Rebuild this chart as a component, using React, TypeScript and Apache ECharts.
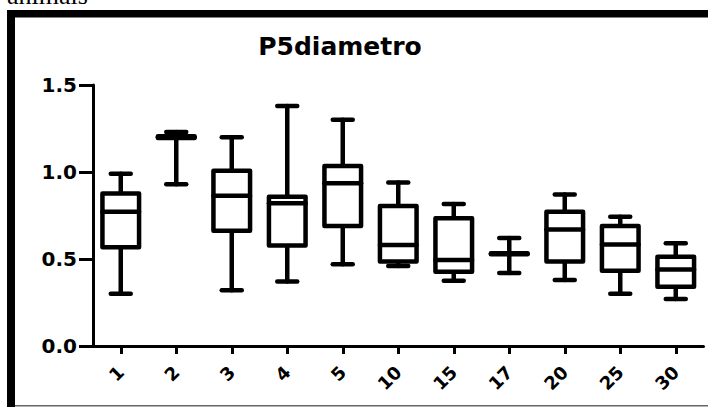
import React, { useEffect, useRef } from "react";
import * as echarts from "echarts";

const categories = ["1", "2", "3", "4", "5", "10", "15", "17", "20", "25", "30"];
const minVals = [0.3, 0.93, 0.32, 0.37, 0.47, 0.46, 0.375, 0.42, 0.38, 0.3, 0.27];
const q1Vals = [0.567, 1.195, 0.663, 0.578, 0.69, 0.485, 0.427, 0.527, 0.485, 0.433, 0.341];
const medianVals = [0.772, 1.2, 0.864, 0.82, 0.935, 0.58, 0.494, 0.53, 0.67, 0.584, 0.44];
const q3Vals = [0.877, 1.205, 1.007, 0.858, 1.034, 0.805, 0.734, 0.533, 0.772, 0.69, 0.513];
const maxVals = [0.99, 1.23, 1.2, 1.38, 1.3, 0.94, 0.816, 0.62, 0.87, 0.743, 0.59];
const chartTitle = "P5diametro";
const captionText = "animals";

export default function App() {
  const ref = useRef<HTMLDivElement>(null);
  useEffect(() => {
    document.body.style.margin = "0";
    if (!ref.current) return;
    const chart = echarts.init(ref.current, null, { renderer: "svg" });
    const data = categories.map((_, i) => [i, minVals[i], q1Vals[i], medianVals[i], q3Vals[i], maxVals[i]]);
    const lw = 4.5;
    const strokeStyle = { stroke: "#000", lineWidth: lw, lineCap: "round", lineJoin: "round" };
    chart.setOption({
      animation: false,
      backgroundColor: "#fff",
      grid: { left: 93, right: 4.5, top: 85, bottom: 61, containLabel: false },
      xAxis: {
        type: "category",
        data: categories,
        axisLine: { show: true, lineStyle: { color: "#000", width: 3 } },
        axisTick: { show: true, alignWithLabel: true, length: 8, lineStyle: { color: "#000", width: 3 } },
        axisLabel: {
          rotate: 45,
          margin: 23,
          color: "#000",
          fontFamily: "DejaVu Sans",
          fontWeight: "bold",
          fontSize: 18,
        },
        splitLine: { show: false },
      },
      yAxis: {
        type: "value",
        min: 0,
        max: 1.5,
        interval: 0.5,
        axisLine: { show: true, lineStyle: { color: "#000", width: 3 } },
        axisTick: { show: true, length: 14, lineStyle: { color: "#000", width: 3 } },
        axisLabel: {
          margin: 16,
          color: "#000",
          fontFamily: "DejaVu Sans",
          fontWeight: "bold",
          fontSize: 20,
          formatter: (v: number) => v.toFixed(1),
        },
        splitLine: { show: false },
      },
      graphic: [
        { type: "rect", shape: { x: 7, y: 10, width: 701, height: 7.5 }, style: { fill: "#000" }, silent: true },
        { type: "rect", shape: { x: 7, y: 10, width: 8, height: 397 }, style: { fill: "#000" }, silent: true },
        { type: "rect", shape: { x: 15, y: 405, width: 693, height: 1.5 }, style: { fill: "#666" }, silent: true },
        {
          type: "text",
          x: 7,
          y: -4.5,
          style: { text: captionText, font: '26px "Liberation Serif"', fill: "#000", align: "left", verticalAlign: "middle" },
          silent: true,
        },
        {
          type: "text",
          x: 340,
          y: 46,
          style: { text: chartTitle, font: 'bold 25px "DejaVu Sans"', fill: "#000", align: "center", verticalAlign: "middle" },
          silent: true,
        },
      ],
      series: [
        {
          type: "custom",
          data,
          encode: { x: 0, y: [1, 2, 3, 4, 5] },
          renderItem: (params: any, api: any) => {
            const idx = api.value(0);
            const pMin = api.coord([idx, api.value(1)]);
            const pQ1 = api.coord([idx, api.value(2)]);
            const pMed = api.coord([idx, api.value(3)]);
            const pQ3 = api.coord([idx, api.value(4)]);
            const pMax = api.coord([idx, api.value(5)]);
            const band = api.size([1, 0])[0];
            const bw = band * 0.66;
            const cw = band * 0.36;
            const cx = pMin[0];
            return {
              type: "group",
              children: [
                { type: "line", shape: { x1: cx, y1: pMax[1], x2: cx, y2: pQ3[1] }, style: strokeStyle },
                { type: "line", shape: { x1: cx, y1: pQ1[1], x2: cx, y2: pMin[1] }, style: strokeStyle },
                { type: "line", shape: { x1: cx - cw / 2, y1: pMax[1], x2: cx + cw / 2, y2: pMax[1] }, style: strokeStyle },
                { type: "line", shape: { x1: cx - cw / 2, y1: pMin[1], x2: cx + cw / 2, y2: pMin[1] }, style: strokeStyle },
                {
                  type: "rect",
                  shape: { x: cx - bw / 2, y: pQ3[1], width: bw, height: pQ1[1] - pQ3[1] },
                  style: { fill: "#fff", stroke: "#000", lineWidth: lw, lineJoin: "round" },
                },
                { type: "line", shape: { x1: cx - bw / 2, y1: pMed[1], x2: cx + bw / 2, y2: pMed[1] }, style: strokeStyle },
              ],
            };
          },
        },
      ],
    });
    return () => chart.dispose();
  }, []);
  return <div ref={ref} style={{ width: 708, height: 407 }} />;
}
